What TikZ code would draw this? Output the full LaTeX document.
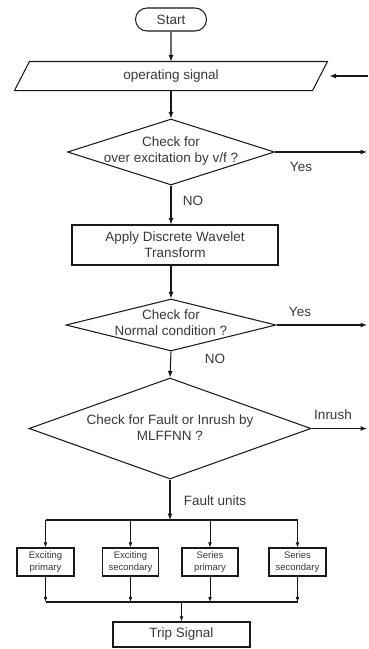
\documentclass[tikz,border=0pt]{standalone}
\usepackage{fontspec}
\setmainfont{Liberation Sans}
\usetikzlibrary{shapes.geometric,shapes.misc,arrows.meta}
\begin{document}
\begin{tikzpicture}[x=1pt,y=1pt,
  line width=1.05pt,
  conn/.style={draw=black!90,-{Latex[length=6.5pt,width=5pt]}},
  sconn/.style={draw=black!90,line width=0.8pt,-{Latex[length=5pt,width=3.8pt]}},
  plain/.style={draw=black!90},
  txt/.style={font=\fontsize{13.5}{16}\selectfont, text=black!78, align=center, inner sep=0pt},
  small/.style={font=\fontsize{9.5}{11.5}\selectfont, text=black!78, align=center, inner sep=0pt},
  term/.style={rounded rectangle, draw=black!90, minimum width=71pt, minimum height=23pt, inner sep=0pt},
  dia/.style={diamond, draw=black!90, inner sep=0pt},
  proc/.style={rectangle, draw=black!90, inner sep=0pt},
]
\useasboundingbox (0,0) rectangle (368,-649);

% nodes
\node[term, txt] (start) at (171,-19.5) {Start};
\node[txt, minimum width=297pt, minimum height=28pt] (sig) at (171,-76) {operating signal};
\draw[plain] ([xshift=7.5pt]sig.north west) -- ([xshift=7.5pt]sig.north east)
  -- ([xshift=-7.5pt]sig.south east) -- ([xshift=-7.5pt]sig.south west) -- cycle;

\node[dia, minimum width=207pt, minimum height=66pt] (d1) at (171,-152) {};
\node[txt] (d1t) at (171,-151) {Check for\\over excitation by v/f ?};

\node[proc, txt, minimum width=206pt, minimum height=40pt] (dwt) at (175,-245) {Apply Discrete Wavelet\\Transform};

\node[dia, minimum width=210pt, minimum height=52pt] (d2) at (171,-325) {};
\node[txt] (d2t) at (171,-323) {Check for\\Normal condition ?};

\node[dia, minimum width=282pt, minimum height=101pt] (d3) at (170,-428.5) {};
\node[txt] (d3t) at (170,-428) {Check for Fault or Inrush by\\MLFFNN ?};

\node[proc, small, minimum width=57pt, minimum height=28pt] (b1) at (45.5,-562) {Exciting\\primary};
\node[proc, small, minimum width=56pt, minimum height=28pt] (b2) at (130.5,-562) {Exciting\\secondary};
\node[proc, small, minimum width=56pt, minimum height=28pt] (b3) at (210,-562) {Series\\primary};
\node[proc, small, minimum width=57pt, minimum height=28pt] (b4) at (297.5,-562) {Series\\secondary};

\node[proc, txt, minimum width=137pt, minimum height=25pt] (trip) at (181.5,-634.5) {Trip Signal};

% labels
\node[txt] (yes1) at (301,-167) {Yes};
\node[txt] (no1) at (193,-201) {NO};
\node[txt] (yes2) at (300,-312) {Yes};
\node[txt] (no2) at (215,-359) {NO};
\node[txt] (inr) at (333,-415) {Inrush};
\node[txt] (fu) at (215,-501) {Fault units};

% coordinates
\coordinate (inR) at (368,-76);
\coordinate (r1) at (367,-152);
\coordinate (r2) at (367,-325);
\coordinate (r3) at (367,-428.5);
\coordinate (busT) at (170,-520);
\coordinate (busB) at (181.5,-602);

% connectors
\draw[conn] (start) -- (sig);
\draw[conn] (inR) -- ([xshift=9.5pt]sig.east);
\draw[conn] (sig) -- (d1);
\draw[conn] (d1.east) -- (r1);
\draw[conn] (d1.south) -- (d1.south |- dwt.north);
\draw[conn] (d1.south |- dwt.south) -- (d2.north);
\draw[conn] (d2.east) -- (r2);
\draw[conn] (d2.south) -- (d3.north);
\draw[conn] (d3.east) -- (r3);
\draw[conn] (d3.south) -- (busT);
\draw[plain] (b1 |- busT) -- (b4 |- busT);
\foreach \b in {b1,b2,b3,b4} {\draw[sconn] (\b |- busT) -- (\b.north);}
\foreach \b in {b1,b2,b3,b4} {\draw[sconn] (\b.south) -- (\b |- busB);}
\draw[plain] (b1 |- busB) -- (b4 |- busB);
\draw[sconn] (busB) -- (trip.north);
\end{tikzpicture}
\end{document}
